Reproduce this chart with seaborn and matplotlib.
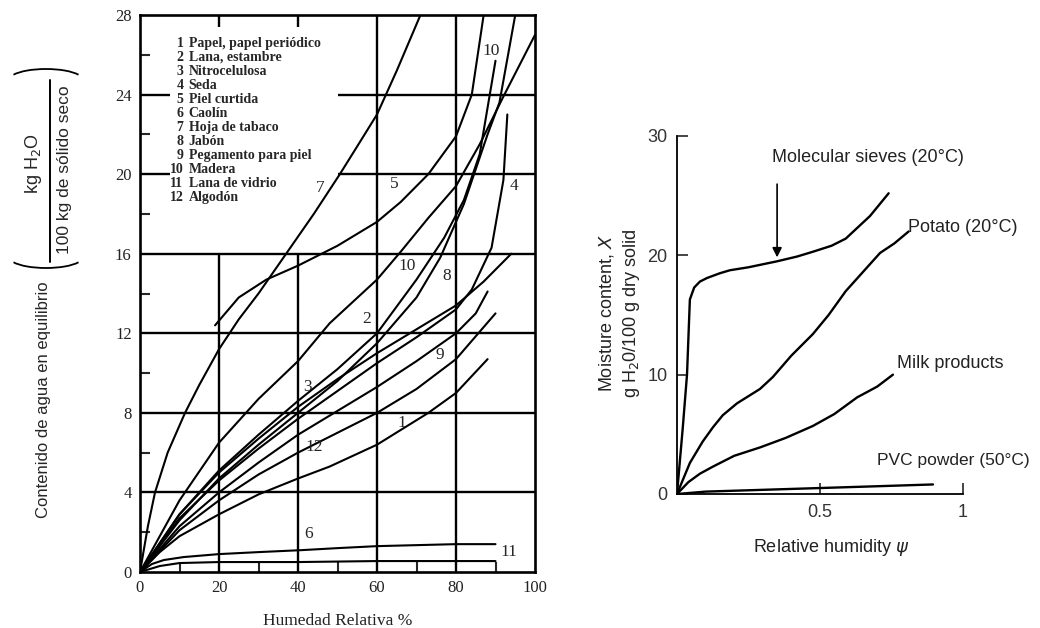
import matplotlib
matplotlib.use("Agg")
import matplotlib.pyplot as plt
import seaborn as sns
from matplotlib.patches import Arc
from matplotlib.lines import Line2D

# ---------------- left chart: equilibrium water content, 12 solids ----------------
# x = Humedad Relativa %, y = kg H2O / 100 kg solido seco
papel_x = [0, 5, 10, 20, 30, 40, 48, 60, 73, 80, 88]
papel_y = [0, 1.0, 1.8, 2.9, 3.9, 4.7, 5.3, 6.4, 8.0, 9.0, 10.7]
lana_x = [0, 10, 20, 30, 40, 48, 60, 66, 73, 80, 86, 92, 100]
lana_y = [0, 3.6, 6.5, 8.7, 10.6, 12.5, 14.7, 16.1, 17.8, 19.4, 21.5, 23.9, 27.0]
nitro_x = [0, 10, 20, 30, 40, 50, 60, 70, 80, 87, 94]
nitro_y = [0, 2.9, 5.0, 6.7, 8.3, 9.7, 11.0, 12.2, 13.4, 14.6, 16.0]
seda_x = [0, 10, 20, 30, 40, 50, 60, 70, 80, 84, 89, 92, 93]
seda_y = [0, 2.7, 4.6, 6.2, 7.7, 9.1, 10.5, 11.8, 13.2, 14.2, 16.3, 19.7, 23.0]
piel_x = [19, 25, 32, 40, 50, 60, 66, 73, 80, 84, 87]
piel_y = [12.4, 13.8, 14.7, 15.4, 16.4, 17.6, 18.6, 20.0, 21.9, 24.0, 28.0]
caolin_x = [0, 3, 6, 11, 20, 30, 41, 50, 60, 70, 80, 90]
caolin_y = [0, 0.4, 0.6, 0.75, 0.9, 1.0, 1.1, 1.2, 1.3, 1.35, 1.4, 1.4]
tabaco_x = [0, 2, 3.8, 7, 11.4, 15, 20, 25, 30, 37, 44, 50.6, 55, 60, 65, 71]
tabaco_y = [0, 2.3, 4.0, 6.0, 8.0, 9.4, 11.2, 12.7, 14.0, 16.0, 18.0, 20.0, 21.4, 23.0, 25.2, 28.0]
jabon_x = [0, 10, 20, 30, 40, 50, 60, 70, 76, 82, 88, 91, 95]
jabon_y = [0, 2.6, 4.7, 6.4, 8.0, 9.6, 11.5, 13.8, 15.8, 18.5, 22.0, 23.6, 28.0]
pegamento_x = [0, 10, 20, 30, 40, 50, 60, 70, 80, 85, 88]
pegamento_y = [0, 2.3, 4.0, 5.5, 6.9, 8.1, 9.3, 10.6, 12.0, 13.0, 14.1]
madera_x = [0, 10, 20, 30, 40, 50, 60, 70, 77, 82, 86, 90]
madera_y = [0, 2.9, 5.1, 6.9, 8.6, 10.2, 12.0, 14.7, 16.8, 18.7, 21.0, 25.7]
vidrio_x = [0, 5, 10, 20, 40, 60, 90]
vidrio_y = [0, 0.3, 0.45, 0.5, 0.5, 0.55, 0.55]
algodon_x = [0, 10, 20, 30, 40, 48, 60, 70, 80, 90]
algodon_y = [0, 2.1, 3.6, 4.9, 6.0, 6.8, 8.0, 9.2, 10.7, 13.0]

leyenda = ['Papel, papel periódico', 'Lana, estambre', 'Nitrocelulosa', 'Seda',
           'Piel curtida', 'Caolín', 'Hoja de tabaco', 'Jabón',
           'Pegamento para piel', 'Madera', 'Lana de vidrio', 'Algodón']

# ---------------- right chart: sorption isotherms ----------------
sieves_x = [0, 0.02, 0.035, 0.045, 0.06, 0.08, 0.105, 0.15, 0.185, 0.25, 0.35, 0.42, 0.475, 0.54, 0.59, 0.675, 0.74]
sieves_y = [0, 5.5, 10.0, 16.3, 17.3, 17.8, 18.1, 18.5, 18.75, 19.0, 19.5, 19.9, 20.3, 20.8, 21.4, 23.3, 25.2]
potato_x = [0, 0.045, 0.09, 0.126, 0.16, 0.21, 0.29, 0.335, 0.4, 0.475, 0.53, 0.59, 0.65, 0.71, 0.76, 0.81]
potato_y = [0, 2.6, 4.4, 5.6, 6.6, 7.6, 8.8, 9.8, 11.6, 13.4, 15.0, 17.0, 18.6, 20.2, 21.0, 22.0]
milk_x = [0, 0.04, 0.08, 0.126, 0.2, 0.29, 0.38, 0.475, 0.55, 0.63, 0.7, 0.755]
milk_y = [0, 1.0, 1.7, 2.3, 3.2, 3.9, 4.7, 5.7, 6.7, 8.1, 9.0, 10.0]
pvc_x = [0, 0.1, 0.3, 0.5, 0.7, 0.895]
pvc_y = [0, 0.2, 0.35, 0.5, 0.65, 0.8]


def fx(px):
    return px / 1040


def fy(py):
    return 1 - py / 628


sns.set_style("white")
plt.rcParams['font.family'] = ['DejaVu Sans']
serif = ['Liberation Serif', 'DejaVu Serif']
sans = ['Liberation Sans Narrow', 'Liberation Sans', 'DejaVu Sans']

fig = plt.figure(figsize=(10.4, 6.28), dpi=100)

# ================= left chart =================
ax1 = fig.add_axes([fx(140), fy(572), 395 / 1040, 557 / 628])
curvas = [(papel_x, papel_y), (lana_x, lana_y), (nitro_x, nitro_y), (seda_x, seda_y),
          (piel_x, piel_y), (caolin_x, caolin_y), (tabaco_x, tabaco_y), (jabon_x, jabon_y),
          (pegamento_x, pegamento_y), (madera_x, madera_y), (vidrio_x, vidrio_y),
          (algodon_x, algodon_y)]
for cx, cy in curvas:
    sns.lineplot(x=cx, y=cy, ax=ax1, color='black', lw=1.5, estimator=None, sort=False)

# grid as drawn in the original figure
ax1.hlines([4, 8, 12, 16], 0, 100, color='black', lw=1.7)
ax1.hlines([20, 24], 0, 7.5, color='black', lw=1.7)
ax1.hlines([20, 24], 50, 100, color='black', lw=1.7)
ax1.vlines([60, 80], 0, 28, color='black', lw=1.7)
ax1.vlines([20, 40], 0, 16, color='black', lw=1.7)
ax1.vlines([20, 40], 27.4, 28, color='black', lw=1.7)

ax1.set_xlim(0, 100)
ax1.set_ylim(0, 28)
ax1.set_xticks([0, 20, 40, 60, 80, 100])
ax1.set_yticks([0, 4, 8, 12, 16, 20, 24, 28])
ax1.set_xticks([10, 30, 50, 70, 90], minor=True)
ax1.set_yticks([2, 6, 10, 14, 18, 22, 26], minor=True)
ax1.tick_params(which='major', length=0, pad=6)
ax1.tick_params(which='minor', direction='in', length=7, width=1.5, left=True, bottom=True)
for lab in ax1.get_xticklabels() + ax1.get_yticklabels():
    lab.set_family(serif)
    lab.set_fontsize(12)
    lab.set_color('#222222')
for s in ax1.spines.values():
    s.set_visible(True)
    s.set_color('black')
    s.set_linewidth(1.9)
ax1.set_xlabel('Humedad Relativa %', family=serif, fontsize=12.5, labelpad=12,
               color='#222222')
ax1.set_ylabel('')

# curve number labels
etiquetas = [('7', 45.6, 19.3), ('5', 64.3, 19.5), ('4', 94.6, 19.4), ('10', 88.8, 26.2),
             ('10', 67.6, 15.4), ('8', 77.7, 14.9), ('2', 57.3, 12.7), ('9', 76.0, 10.9),
             ('3', 42.5, 9.3), ('12', 44.0, 6.3), ('1', 66.2, 7.5), ('6', 42.6, 1.9),
             ('11', 93.5, 1.0)]
for t, tx, ty in etiquetas:
    ax1.text(tx, ty, t, family=serif, fontsize=12.5, ha='center', va='center')

# legend block
for i, nombre in enumerate(leyenda):
    ly = (572 - (43 + 14 * i)) / 19.9
    ax1.text(11.0, ly, str(i + 1), family=serif, fontweight='bold', fontsize=10,
             ha='right', va='center')
    ax1.text(12.3, ly, nombre, family=serif, fontweight='bold', fontsize=10,
             ha='left', va='center')

# y label with fraction in parentheses
fig.text(fx(44), fy(400), 'Contenido de agua en equilibrio', rotation=90,
         family=sans, fontsize=12, ha='center', va='center')
fig.text(fx(33), fy(164), 'kg H$_2$O', rotation=90, family=sans, fontsize=13,
         ha='center', va='center')
fig.text(fx(64), fy(170), '100 kg de sólido seco', rotation=90, family=sans,
         fontsize=12.5, ha='center', va='center')
fig.add_artist(Line2D([fx(50), fx(50)], [fy(80), fy(262)], color='black', lw=1.4))
fig.add_artist(Arc((fx(46), fy(80)), 74 / 1040, 22 / 628, theta1=15, theta2=165,
                   transform=fig.transFigure, color='black', lw=1.3))
fig.add_artist(Arc((fx(46), fy(257)), 74 / 1040, 22 / 628, theta1=195, theta2=345,
                   transform=fig.transFigure, color='black', lw=1.3))

# ================= right chart =================
ax2 = fig.add_axes([fx(677), fy(494), 286 / 1040, 358 / 628])
for cx, cy in [(sieves_x, sieves_y), (potato_x, potato_y), (milk_x, milk_y), (pvc_x, pvc_y)]:
    sns.lineplot(x=cx, y=cy, ax=ax2, color='black', lw=1.7, estimator=None, sort=False)

ax2.set_xlim(0, 1)
ax2.set_ylim(0, 30)
ax2.set_xticks([0.5, 1])
ax2.set_xticklabels(['0.5', '1'])
ax2.set_yticks([0, 10, 20, 30])
ax2.set_yticklabels(['0', '10', '20', '30'])
ax2.tick_params(direction='in', length=8, width=1.2, left=True, bottom=True, pad=7,
                labelsize=13)
for lab in ax2.get_xticklabels() + ax2.get_yticklabels():
    lab.set_family(sans)
    lab.set_color('#333333')
for side in ['top', 'right']:
    ax2.spines[side].set_visible(False)
for side in ['left', 'bottom']:
    ax2.spines[side].set_color('black')
    ax2.spines[side].set_linewidth(1.3)
ax2.set_xlabel('')
ax2.set_ylabel('')

ax2.annotate('', xy=(0.35, 19.6), xytext=(0.35, 26.2),
             arrowprops=dict(arrowstyle='-|>', color='black', lw=1.2, mutation_scale=14))

txt = dict(family=sans, fontsize=13, color='#222222', va='center')
fig.text(fx(772), fy(157), 'Molecular sieves (20°C)', ha='left', **txt)
fig.text(fx(908), fy(227), 'Potato (20°C)', ha='left', **txt)
fig.text(fx(897), fy(363), 'Milk products', ha='left', **txt)
fig.text(fx(877), fy(460), 'PVC powder (50°C)', ha='left', family=sans, fontsize=12.5,
         color='#222222', va='center')
fig.text(fx(831), fy(548), r'Relative humidity $\psi$', ha='center', **txt)
fig.text(fx(607), fy(313), r'Moisture content, $X$', ha='center', rotation=90, **txt)
fig.text(fx(631), fy(313), r'g H$_2$0/100 g dry solid', ha='center', rotation=90, **txt)

fig.savefig('out.png', dpi=100)
